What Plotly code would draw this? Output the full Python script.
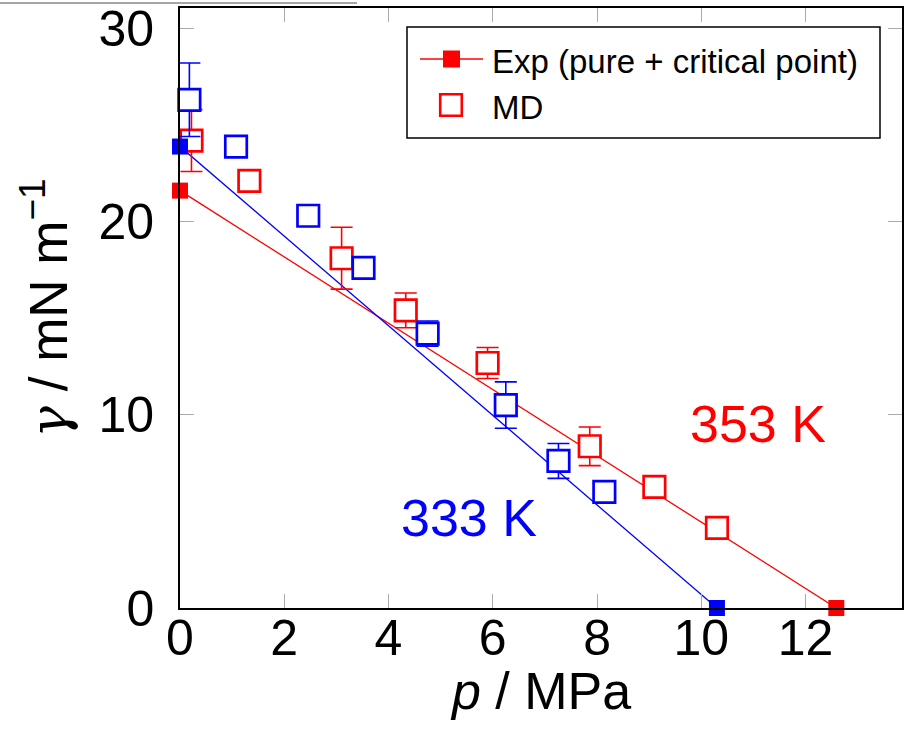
import plotly.graph_objects as go

# ---- data ----
exp_333_p = [0.0, 10.30]
exp_333_g = [23.88, 0.0]
exp_353_p = [0.0, 12.59]
exp_353_g = [21.6, 0.0]

md_333_p = [0.18, 1.075, 2.46, 3.52, 4.75, 6.25, 7.26, 8.14]
md_333_g = [26.3, 23.88, 20.3, 17.6, 14.2, 10.5, 7.61, 6.01]
md_333_err = [1.9, 0, 0, 0, 0.65, 1.2, 0.9, 0]

md_353_p = [0.22, 1.33, 3.10, 4.33, 5.90, 7.86, 9.10, 10.30]
md_353_g = [24.19, 22.1, 18.1, 15.4, 12.68, 8.37, 6.27, 4.15]
md_353_err = [1.6, 0, 1.6, 0.9, 0.8, 1.0, 0, 0]

x_ticks = [0, 2, 4, 6, 8, 10, 12]
y_ticks = [0, 10, 20, 30]

legend_labels = ["Exp (pure + critical point)", "MD"]

RED = "#ff0000"
BLUE = "#0000ff"
FONT = "Liberation Sans, Arial, Helvetica, sans-serif"

# plot-area geometry (pixels) used to place the hand-drawn legend
L, R, T, B = 180, 902, 8, 608
W, H = R - L, B - T


def xp(px):
    return (px - L) / W


def yp(py):
    return (B - py) / H


fig = go.Figure()

# experimental lines
fig.add_trace(go.Scatter(x=exp_353_p, y=exp_353_g, mode="lines",
                         line=dict(color=RED, width=1.3), cliponaxis=False))
fig.add_trace(go.Scatter(x=exp_333_p, y=exp_333_g, mode="lines",
                         line=dict(color=BLUE, width=1.3), cliponaxis=False))

# MD points
fig.add_trace(go.Scatter(x=md_353_p, y=md_353_g, mode="markers", cliponaxis=False,
                         marker=dict(symbol="square", size=21.5, color="white",
                                     line=dict(color=RED, width=2.7)),
                         error_y=dict(type="data", array=md_353_err, color=RED,
                                      thickness=1.6, width=11)))
fig.add_trace(go.Scatter(x=md_333_p, y=md_333_g, mode="markers", cliponaxis=False,
                         marker=dict(symbol="square", size=21.5, color="white",
                                     line=dict(color=BLUE, width=2.7)),
                         error_y=dict(type="data", array=md_333_err, color=BLUE,
                                      thickness=1.6, width=11)))

# experimental markers on top
fig.add_trace(go.Scatter(x=exp_353_p, y=exp_353_g, mode="markers", cliponaxis=False,
                         marker=dict(symbol="square", size=16, color=RED)))
fig.add_trace(go.Scatter(x=exp_333_p, y=exp_333_g, mode="markers", cliponaxis=False,
                         marker=dict(symbol="square", size=16, color=BLUE)))

fig.add_annotation(x=5.54, y=4.68, text="333 K", showarrow=False,
                   font=dict(color=BLUE, size=52, family=FONT))
fig.add_annotation(x=11.09, y=9.5, text="353 K", showarrow=False,
                   font=dict(color=RED, size=52, family=FONT))

# ---- hand-drawn legend box ----
fig.add_shape(type="rect", xref="paper", yref="paper",
              x0=xp(407), x1=xp(880), y0=yp(27), y1=yp(138),
              line=dict(color="black", width=1.5), fillcolor="white", layer="above")
fig.add_shape(type="line", xref="paper", yref="paper",
              x0=xp(420), x1=xp(483), y0=yp(59), y1=yp(59),
              line=dict(color=RED, width=1.3), layer="above")
fig.add_shape(type="rect", xref="paper", yref="paper",
              x0=xp(451.5 - 8.5), x1=xp(451.5 + 8.5), y0=yp(59 - 8.5), y1=yp(59 + 8.5),
              line=dict(color=RED, width=0), fillcolor=RED, layer="above")
fig.add_shape(type="rect", xref="paper", yref="paper",
              x0=xp(451 - 10.8), x1=xp(451 + 10.8), y0=yp(105 - 10.8), y1=yp(105 + 10.8),
              line=dict(color=RED, width=2.6), fillcolor="white", layer="above")
for lab, cy in zip(legend_labels, [59, 105]):
    fig.add_annotation(xref="paper", yref="paper", x=xp(490), y=yp(cy + 2),
                       xanchor="left", yanchor="middle", text=lab, showarrow=False,
                       font=dict(size=33, family=FONT, color="black"))

# axis title for x placed as annotation for precise placement
fig.add_annotation(xref="paper", yref="paper", x=xp(540), y=yp(691),
                   xanchor="center", yanchor="middle", showarrow=False,
                   text="<i>p</i> / MPa", font=dict(size=52, family=FONT, color="black"))

# stray grey rule at top-left of the reference image
fig.add_shape(type="line", xref="paper", yref="paper",
              x0=xp(0), x1=xp(357), y0=yp(3), y1=yp(3),
              line=dict(color="#888888", width=1.5))

axis_common = dict(showline=True, linecolor="black", linewidth=1.6, mirror="ticks",
                   ticks="inside", ticklen=14, tickcolor="#aaaaaa", tickwidth=1,
                   showgrid=False, zeroline=False, automargin=False,
                   tickfont=dict(size=50, family=FONT, color="black"))

fig.update_layout(
    width=907, height=731,
    margin=dict(l=L, r=907 - R, t=T, b=731 - B),
    paper_bgcolor="white", plot_bgcolor="white",
    font=dict(family=FONT, color="black"),
    showlegend=False,
    xaxis=dict(range=[0, 13.85], tickvals=x_ticks, ticklabelstandoff=-15,
               **axis_common),
    yaxis=dict(range=[0, 31.05], tickvals=y_ticks, ticklabelstandoff=14,
               title=dict(text="<span style='font-family:DejaVu Serif'><i>γ</i></span> / mN m<sup>−1</sup>",
                          font=dict(size=53, family=FONT), standoff=14),
               **axis_common),
)

fig.write_html("out.html", config={"displayModeBar": False},
               post_script="document.body.style.margin='0';document.body.style.padding='0';")
